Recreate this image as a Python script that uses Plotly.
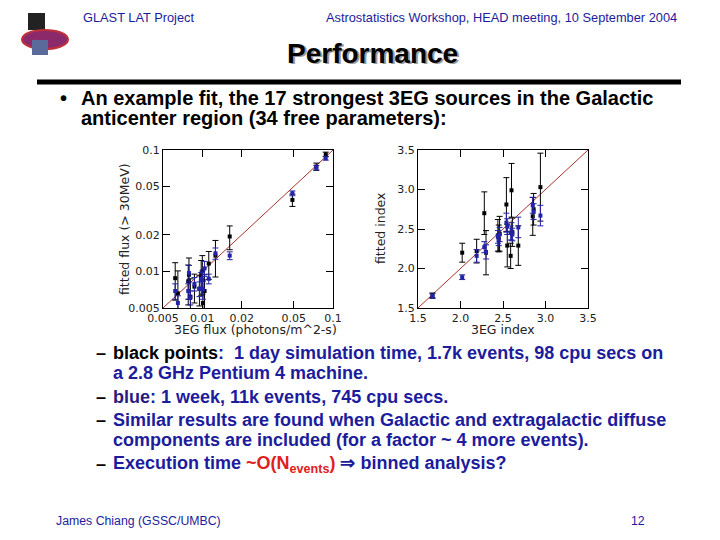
import plotly.graph_objects as go
import math

# 3EG catalogue flux vs fitted flux (> 30 MeV), 17 sources
flux_3eg = [0.0062, 0.0065, 0.0078, 0.0079, 0.0081, 0.0087, 0.0095, 0.0098, 0.0100,
            0.0101, 0.0104, 0.0112, 0.0126, 0.0162, 0.0489, 0.0745, 0.0880]
flux_day = [0.0088, 0.0066, 0.0083, 0.0094, 0.0062, 0.0075, 0.0072, 0.0093, 0.0100,
            0.0055, 0.0069, 0.0116, 0.0135, 0.0194, 0.0388, 0.0730, 0.0920]
flux_day_err = [0.0030, 0.0035, 0.0030, 0.0035, 0.0025, 0.0020, 0.0020, 0.0030, 0.0035,
                0.0030, 0.0025, 0.0030, 0.0045, 0.0043, 0.0045, 0.0050, 0.0040]
flux_week = [0.0069, 0.0055, 0.0069, 0.0097, 0.0061, 0.0079, 0.0072, 0.0086, 0.0086,
             0.0071, 0.0106, 0.0087, 0.0141, 0.0135, 0.0440, 0.0716, 0.0855]
flux_week_err = [0.0010, 0.0008, 0.0010, 0.0015, 0.0008, 0.0010, 0.0010, 0.0012, 0.0015,
                 0.0012, 0.0015, 0.0008, 0.0015, 0.0010, 0.0020, 0.0030, 0.0030]

# 3EG photon index vs fitted index
idx_3eg = [1.67, 2.02, 2.19, 2.28, 2.30, 2.44, 2.45, 2.46, 2.54, 2.55, 2.59, 2.60,
           2.61, 2.68, 2.85, 2.86, 2.94]
idx_day = [1.66, 2.20, 2.22, 2.70, 2.20, 2.42, 2.38, 2.44, 2.81, 2.29, 2.16, 2.99,
           2.46, 2.29, 2.66, 2.75, 3.03]
idx_day_err = [0.03, 0.12, 0.15, 0.27, 0.28, 0.20, 0.17, 0.22, 0.34, 0.27, 0.16, 0.34,
               0.18, 0.25, 0.24, 0.20, 0.43]
idx_week = [1.65, 1.89, 2.16, 2.27, 2.21, 2.40, 2.36, 2.43, 2.58, 2.53, 2.45, 2.47,
            2.43, 2.52, 2.80, 2.72, 2.67]
idx_week_err = [0.03, 0.03, 0.08, 0.07, 0.09, 0.08, 0.07, 0.09, 0.12, 0.10, 0.09, 0.11,
                0.08, 0.13, 0.10, 0.10, 0.13]

flux_ticks = [0.005, 0.01, 0.02, 0.05, 0.1]
flux_ticktext = ["0.005", "0.01", "0.02", "0.05", "0.1"]
idx_ticks = [1.5, 2.0, 2.5, 3.0, 3.5]
idx_ticktext = ["1.5", "2.0", "2.5", "3.0", "3.5"]

W, H = 720, 540
OFF = 8  # page body margin
BLUE = "#2323a8"
LINE_RED = "#a8322c"
TXT_BLUE = "#1c1c9c"


def px(x):
    return (x - OFF) / W


def py(y):
    return 1 - (y - OFF) / H


fig = go.Figure()

# flux panel
fig.add_trace(go.Scatter(x=flux_ticks, y=flux_ticks, mode="lines",
                         line=dict(color=LINE_RED, width=1), xaxis="x", yaxis="y",
                         hoverinfo="skip"))
fig.add_trace(go.Scatter(x=flux_3eg, y=flux_day, mode="markers", xaxis="x", yaxis="y",
                         marker=dict(symbol="square", size=4, color="black"),
                         error_y=dict(type="data", array=flux_day_err, color="black",
                                      thickness=1, width=3)))
fig.add_trace(go.Scatter(x=flux_3eg, y=flux_week, mode="markers", xaxis="x", yaxis="y",
                         marker=dict(symbol="square", size=4, color=BLUE),
                         error_y=dict(type="data", array=flux_week_err, color=BLUE,
                                      thickness=1, width=3)))

# index panel
fig.add_trace(go.Scatter(x=idx_ticks, y=idx_ticks, mode="lines",
                         line=dict(color=LINE_RED, width=1), xaxis="x2", yaxis="y2",
                         hoverinfo="skip"))
fig.add_trace(go.Scatter(x=idx_3eg, y=idx_day, mode="markers", xaxis="x2", yaxis="y2",
                         marker=dict(symbol="square", size=4, color="black"),
                         error_y=dict(type="data", array=idx_day_err, color="black",
                                      thickness=1, width=3)))
fig.add_trace(go.Scatter(x=idx_3eg, y=idx_week, mode="markers", xaxis="x2", yaxis="y2",
                         marker=dict(symbol="square", size=4, color=BLUE),
                         error_y=dict(type="data", array=idx_week_err, color=BLUE,
                                      thickness=1, width=3)))

axis_style = dict(showline=True, linecolor="black", linewidth=1, mirror="ticks",
                  ticks="inside", ticklen=7, tickcolor="black", showgrid=False,
                  zeroline=False, automargin=False,
                  tickfont=dict(family="DejaVu Sans", size=11, color="#222"))

fig.update_layout(
    width=W, height=H,
    margin=dict(l=0, r=0, t=0, b=0, pad=0, autoexpand=False),
    paper_bgcolor="white", plot_bgcolor="white",
    showlegend=False,
    xaxis=dict(domain=[px(163), px(333)], type="log",
               range=[math.log10(0.005), math.log10(0.1)],
               tickvals=flux_ticks, ticktext=flux_ticktext, anchor="y", **axis_style),
    yaxis=dict(domain=[py(308), py(150)], type="log",
               range=[math.log10(0.005), math.log10(0.1)],
               tickvals=flux_ticks, ticktext=flux_ticktext, anchor="x", **axis_style),
    xaxis2=dict(domain=[px(418), px(588)], range=[1.5, 3.5],
                tickvals=idx_ticks, ticktext=idx_ticktext, anchor="y2", **axis_style),
    yaxis2=dict(domain=[py(308), py(150)], range=[1.5, 3.5],
                tickvals=idx_ticks, ticktext=idx_ticktext, anchor="x2", **axis_style),
)


def add_text(x, y, text, size, color="black", bold=False, family="Liberation Sans",
             xanchor="left", angle=0):
    if bold:
        text = "<b>" + text + "</b>"
    fig.add_annotation(x=px(x), y=py(y), xref="paper", yref="paper", text=text,
                       showarrow=False, xanchor=xanchor, yanchor="middle",
                       font=dict(family=family, size=size, color=color), textangle=angle)


# axis titles
add_text(255, 329, "3EG flux (photons/m^2-s)", 12.5, "#222", family="DejaVu Sans", xanchor="center")
add_text(125, 229, "fitted flux (> 30MeV)", 12.5, "#222", family="DejaVu Sans", xanchor="center", angle=-90)
add_text(503, 329, "3EG index", 12.5, "#222", family="DejaVu Sans", xanchor="center")
add_text(381, 229, "fitted index", 12.5, "#222", family="DejaVu Sans", xanchor="center", angle=-90)

# header
add_text(81, 18, "GLAST LAT Project", 12.8, TXT_BLUE)
add_text(679, 18, "Astrostatistics Workshop, HEAD meeting, 10 September 2004", 12.8, TXT_BLUE,
         xanchor="right")
add_text(374, 55, "Performance", 28, "#9a9a9a", bold=True, xanchor="center")
add_text(372, 53, "Performance", 28, "black", bold=True, xanchor="center")
fig.add_shape(type="line", xref="paper", yref="paper", x0=px(37), x1=px(681),
              y0=py(82), y1=py(82), line=dict(color="black", width=5))

# logo
fig.add_shape(type="rect", xref="paper", yref="paper", x0=px(28), x1=px(45),
              y0=py(30), y1=py(13), fillcolor="#222", line=dict(width=0))
fig.add_shape(type="circle", xref="paper", yref="paper", x0=px(22), x1=px(68),
              y0=py(49), y1=py(30), fillcolor="#8a2a6a", line=dict(color="#c0303a", width=2))
fig.add_shape(type="rect", xref="paper", yref="paper", x0=px(32), x1=px(48),
              y0=py(55), y1=py(40), fillcolor="#5a6a9a", line=dict(width=0))

# bullet text
add_text(58, 98, "•", 20, "black", bold=True)
add_text(79, 98, "An example fit, the 17 strongest 3EG sources in the Galactic", 20, bold=True)
add_text(79, 118, "anticenter region (34 free parameters):", 20, bold=True)

SZ = 18
add_text(94, 353, "–", SZ, "black", bold=True)
add_text(111, 353, "<span style='color:black'>black points</span>:  1 day simulation time, "
         "1.7k events, 98 cpu secs on", SZ, TXT_BLUE, bold=True)
add_text(111, 373, "a 2.8 GHz Pentium 4 machine.", SZ, TXT_BLUE, bold=True)
add_text(94, 397, "–", SZ, "black", bold=True)
add_text(111, 397, "<span style='color:#2a1a80'>blue</span>: 1 week, 11k events, 745 cpu secs.",
         SZ, TXT_BLUE, bold=True)
add_text(94, 420, "–", SZ, "black", bold=True)
add_text(111, 420, "Similar results are found when Galactic and extragalactic diffuse",
         SZ, TXT_BLUE, bold=True)
add_text(111, 440, "components are included (for a factor ~ 4 more events).", SZ, TXT_BLUE,
         bold=True)
add_text(94, 464, "–", SZ, "black", bold=True)
add_text(111, 464, "Execution time <span style='color:#e02020'>~O(N<sub>events</sub>)</span>"
         " ⇒ binned analysis?", SZ, TXT_BLUE, bold=True)

# footer
add_text(54, 521, "James Chiang (GSSC/UMBC)", 12.3, TXT_BLUE)
add_text(638, 521, "12", 12.3, TXT_BLUE, xanchor="center")

fig.write_html("out.html")
